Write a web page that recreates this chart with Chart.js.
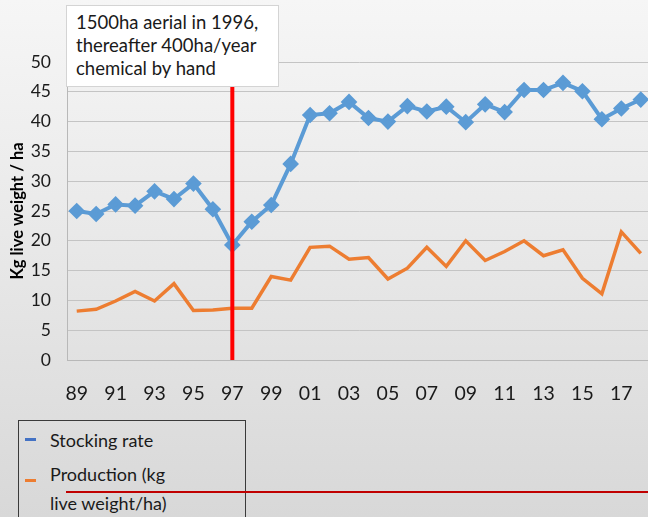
<!DOCTYPE html>
<html>
<head>
<meta charset="utf-8">
<script src="https://cdn.jsdelivr.net/npm/chart.js@4.4.0/dist/chart.umd.min.js"></script>
<style>
  html, body { margin: 0; padding: 0; }
  body {
    width: 648px; height: 517px; overflow: hidden; position: relative;
    background: linear-gradient(to bottom, #f6f6f6 0%, #e9e9e9 45%, #d8d8d8 100%);
    font-family: Lato, "Open Sans", sans-serif;
  }
  #chartWrap { position: absolute; left: 0; top: 0; width: 660px; height: 410px; }
  #note {
    position: absolute; left: 66px; top: 5px; width: 202px; height: 70px;
    background: #fff; border: 1px solid #d4d4d4; padding: 5px 0 5px 9px;
    font-size: 18.5px; line-height: 23px; color: #1a1a1a;
  }
  #legend {
    position: absolute; left: 18px; top: 420px; width: 226px; height: 120px;
    border: 1px solid #3a3a3a; font-size: 18px; color: #1a1a1a;
  }
  .item { position: absolute; left: 31px; line-height: 29px; }
  .dash { position: absolute; left: 6px; width: 11px; height: 3px; }
  #redrule { position: absolute; left: 66px; top: 491px; width: 582px; height: 2px; background: #c00000; }
</style>
</head>
<body>
<div id="chartWrap"><canvas id="chart"></canvas></div>
<div id="note">1500ha aerial in 1996,<br>thereafter 400ha/year<br>chemical by hand</div>
<div id="legend">
  <div class="dash" style="top:17px;background:#4472c4"></div>
  <div class="item" style="top:5px">Stocking rate</div>
  <div class="dash" style="top:58px;background:#ed7d31"></div>
  <div class="item" style="top:39px">Production (kg<br>live weight/ha)</div>
</div>
<div id="redrule"></div>
<script>
const years = ['89', '90', '91', '92', '93', '94', '95', '96', '97', '98', '99', '00', '01', '02', '03',
    '04', '05', '06', '07', '08', '09', '10', '11', '12', '13', '14', '15', '16', '17', '18'];
const stockingRate = [25, 24.5, 26.1, 25.9, 28.3, 27, 29.6, 25.3, 19.3, 23.2, 26, 32.9, 41.1, 41.4, 43.3,
    40.6, 40, 42.6, 41.7, 42.5, 39.9, 42.9, 41.6, 45.3, 45.3, 46.5, 45.1, 40.4, 42.2, 43.7];
const production = [8.2, 8.5, 9.9, 11.5, 9.9, 12.8, 8.3, 8.4, 8.7, 8.7, 14, 13.4, 18.9, 19.1, 16.9,
    17.2, 13.6, 15.4, 18.9, 15.7, 20, 16.7, 18.2, 20, 17.5, 18.5, 13.7, 11.1, 21.5, 17.9];
const yTicks = [0, 5, 10, 15, 20, 25, 30, 35, 40, 45, 50];
const markerYear = '97';

// red vertical line at the start of the treatment
const markerLine = {
    id: 'markerLine',
    afterDatasetsDraw(chart) {
        const x = chart.scales.x.getPixelForValue(years.indexOf(markerYear));
        const area = chart.chartArea;
        const ctx = chart.ctx;
        ctx.save();
        ctx.strokeStyle = '#ff0000';
        ctx.lineWidth = 4;
        ctx.beginPath();
        ctx.moveTo(x, area.top);
        ctx.lineTo(x, area.bottom);
        ctx.stroke();
        ctx.restore();
    }
};

new Chart(document.getElementById('chart'), {
    type: 'line',
    data: {
        labels: years,
        datasets: [
            {
                label: 'Stocking rate',
                data: stockingRate,
                borderColor: '#5b9bd5',
                backgroundColor: '#5b9bd5',
                borderWidth: 4,
                pointStyle: 'rectRot',
                pointRadius: 5.5,
                pointHoverRadius: 5.5,
                tension: 0
            },
            {
                label: 'Production (kg live weight/ha)',
                data: production,
                borderColor: '#ed7d31',
                backgroundColor: '#ed7d31',
                borderWidth: 3.5,
                pointRadius: 0,
                tension: 0
            }
        ]
    },
    options: {
        responsive: true,
        maintainAspectRatio: false,
        animation: false,
        layout: { padding: { top: 62, right: 2, left: 8, bottom: 0 } },
        plugins: {
            legend: { display: false },
            tooltip: { enabled: false }
        },
        scales: {
            x: {
                offset: true,
                grid: { display: false },
                border: { display: true, color: '#b8b8b8', width: 1 },
                ticks: {
                    autoSkip: false,
                    maxRotation: 0,
                    padding: 14,
                    color: '#1a1a1a',
                    font: { family: 'Lato', size: 19.5 },
                    callback: (v, i) => (i % 2 === 0 ? years[i] : '')
                },
                afterFit: s => { s.height = 50; }
            },
            y: {
                min: 0,
                max: 50,
                afterBuildTicks: s => { s.ticks = yTicks.map(v => ({ value: v })); },
                grid: { color: '#c4c4c4', lineWidth: 1, drawTicks: false },
                border: { display: true, color: '#b8b8b8', width: 1 },
                ticks: {
                    padding: 16,
                    color: '#1a1a1a',
                    font: { family: 'Lato', size: 17.5 }
                },
                title: {
                    display: true,
                    text: 'Kg live weight / ha',
                    color: '#000',
                    padding: 0,
                    font: { family: 'Lato', size: 16.5, weight: 'bold' }
                },
                afterFit: s => { s.width = 59; }
            }
        }
    },
    plugins: [markerLine]
});
</script>
</body>
</html>
